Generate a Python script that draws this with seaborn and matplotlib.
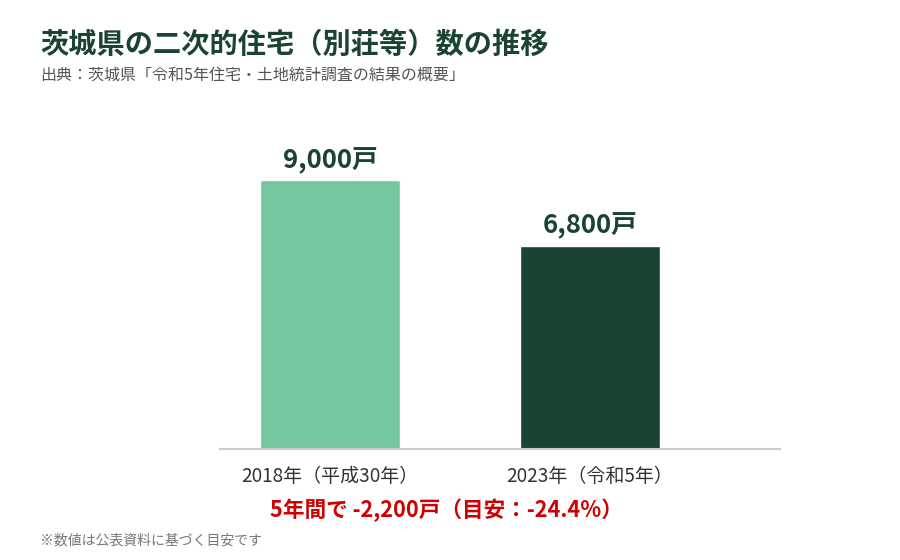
import numpy as np
import pandas as pd
import matplotlib
matplotlib.use('Agg')
import matplotlib.pyplot as plt
import seaborn as sns

# Data
years = ['2018年（平成30年）', '2023年（令和5年）']
homes = [9000, 6800]
bar_colors = ['#74C69D', '#1B4332']

title = '茨城県の二次的住宅（別荘等）数の推移'
subtitle = '出典：茨城県「令和5年住宅・土地統計調査の結果の概要」'
change_note = '5年間で -2,200戸（目安：-24.4%）'
footnote = '※数値は公表資料に基づく目安です'

sns.set_theme(style='white')
plt.rcParams['font.family'] = ['Noto Sans CJK JP', 'DejaVu Sans']

df = pd.DataFrame({'year': years, 'homes': homes})

fig = plt.figure(figsize=(9, 5.6), dpi=100)
ax = fig.add_axes([220 / 900, 1 - 449 / 560, 560 / 900, 329 / 560])

sns.barplot(data=df, x='year', y='homes', hue='year', palette=bar_colors,
            width=0.54, legend=False, ax=ax, saturation=1)

ax.set_xlim(-0.423, 1.731)
ax.set_ylim(0, 11000)
ax.set_xlabel('')
ax.set_ylabel('')
ax.set_yticks([])
for s in ['top', 'right', 'left']:
    ax.spines[s].set_visible(False)
ax.spines['bottom'].set_color('#cccccc')
ax.spines['bottom'].set_linewidth(1.5)
ax.tick_params(axis='x', length=0, pad=12, labelsize=13.7, labelcolor='#333333')

for i, v in enumerate(homes):
    ax.text(i, v + 200, f'{v:,}戸', ha='center', va='bottom',
            fontsize=18.5, fontweight='bold', color='#1B4332')

fig.text(40 / 900, 1 - 45 / 560, title, ha='left', va='center',
         fontsize=20.3, fontweight='bold', color='#1B4332')
fig.text(40 / 900, 1 - 75 / 560, subtitle, ha='left', va='center',
         fontsize=11.5, color='#555555')
fig.text(446 / 900, 1 - 510 / 560, change_note, ha='center', va='center',
         fontsize=15.6, fontweight='bold', color='#D00000')
fig.text(40 / 900, 1 - 541 / 560, footnote, ha='left', va='center',
         fontsize=10, color='#777777')

fig.savefig('out.png', dpi=100)
